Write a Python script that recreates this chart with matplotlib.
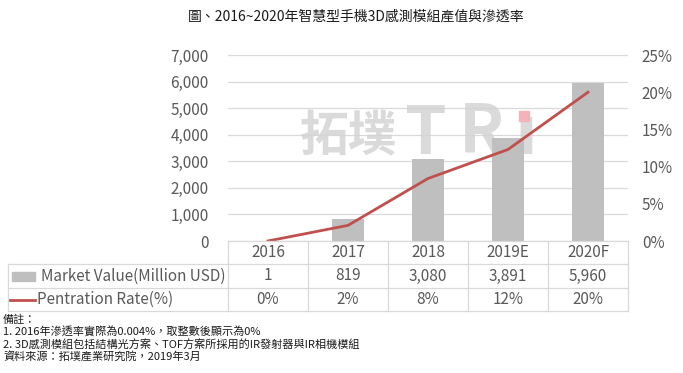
import matplotlib
matplotlib.use("Agg")
import matplotlib.pyplot as plt
from matplotlib.lines import Line2D
from matplotlib.patches import Rectangle
from matplotlib.transforms import blended_transform_factory
from matplotlib.ticker import FuncFormatter, PercentFormatter

plt.rcParams["font.family"] = ["Noto Sans CJK TC", "DejaVu Sans"]

# data
years = ["2016", "2017", "2018", "2019E", "2020F"]
market_value = [1, 819, 3080, 3891, 5960]
penetration = [0.00004, 0.021, 0.084, 0.123, 0.200]
value_labels = ["1", "819", "3,080", "3,891", "5,960"]
rate_labels = ["0%", "2%", "8%", "12%", "20%"]
row_names = ["Market Value(Million USD)", "Pentration Rate(%)"]

title = "圖、2016~2020年智慧型手機3D感測模組產值與滲透率"
notes = [
    "備註：",
    "1. 2016年滲透率實際為0.004%，取整數後顯示為0%",
    "2. 3D感測模組包括結構光方案、TOF方案所採用的IR發射器與IR相機模組",
    "資料來源：拓墣產業研究院，2019年3月",
]

W, H = 683, 373
BAR_C = "#bfbfbf"
LINE_C = "#c0504d"
TXT_C = "#595959"
GRID_C = "#d9d9d9"
WM_C = "#d4d4d4"


def fx(px):
    return px / W


def fy(py):
    return 1 - py / H


fig = plt.figure(figsize=(W / 100, H / 100), dpi=100)

# plot area: x 228..628, y 55..241 (pixels from top)
ax = fig.add_axes([fx(228), fy(241), fx(400), 186 / H])
xs = list(range(len(years)))
ax.bar(xs, market_value, width=0.4, color=BAR_C, zorder=2)
ax.set_xlim(-0.5, len(years) - 0.5)
ax.set_ylim(0, 7000)
ax.set_yticks(range(0, 7001, 1000))
ax.yaxis.set_major_formatter(FuncFormatter(lambda v, _: f"{v:,.0f}"))
ax.set_xticks([])
ax.grid(axis="y", color=GRID_C, linewidth=0.9)
ax.set_axisbelow(True)
ax.tick_params(axis="y", length=0, pad=14, labelsize=11, labelcolor=TXT_C)
for s in ax.spines.values():
    s.set_visible(False)

# faint logo watermark
wm = dict(transform=ax.transAxes, va="center", fontweight="bold", color=WM_C,
          alpha=0.85, zorder=1)
ax.text(0.30, 0.565, "拓墣", ha="center", fontsize=35, **wm)
ax.text(0.495, 0.575, "T", ha="center", fontsize=48, **wm)
ax.text(0.635, 0.575, "R", ha="center", fontsize=48, **wm)
ax.text(0.745, 0.575, "ı", ha="center", fontsize=48, **wm)
fig.add_artist(Rectangle((fx(519), fy(121)), fx(10), 10 / H, transform=fig.transFigure,
                         color="#f4b3b9", zorder=3))

ax2 = ax.twinx()
ax2.plot(xs, penetration, color=LINE_C, linewidth=2.0, zorder=3)
ax2.set_ylim(0, 0.25)
ax2.set_yticks([0, 0.05, 0.10, 0.15, 0.20, 0.25])
ax2.yaxis.set_major_formatter(PercentFormatter(1.0, decimals=0))
ax2.tick_params(axis="y", length=0, pad=10, labelsize=11, labelcolor=TXT_C)
for s in ax2.spines.values():
    s.set_visible(False)

# data table under the plot
bt = blended_transform_factory(ax.transData, fig.transFigure)
rows_y = [241, 264, 288, 311]
left_px = 8
x_lo, x_hi = -0.5, len(years) - 0.5

for i, y in enumerate(rows_y):
    if i > 0:
        fig.add_artist(Line2D([fx(left_px), fx(228)], [fy(y)] * 2, transform=fig.transFigure,
                              color=GRID_C, lw=0.9))
    fig.add_artist(Line2D([x_lo, x_hi], [fy(y)] * 2, transform=bt, color=GRID_C, lw=0.9))
for k in range(len(years) + 1):
    fig.add_artist(Line2D([k - 0.5] * 2, [fy(241), fy(311)], transform=bt, color=GRID_C, lw=0.9))
fig.add_artist(Line2D([fx(left_px)] * 2, [fy(264), fy(311)], transform=fig.transFigure,
                      color=GRID_C, lw=0.9))

row_cells = [years, value_labels, rate_labels]
for r, cells in enumerate(row_cells):
    yc = fy((rows_y[r] + rows_y[r + 1]) / 2)
    for i, txt in enumerate(cells):
        fig.text(i, yc, txt, transform=bt, ha="center", va="center", fontsize=11, color=TXT_C)

# row labels with legend keys
y_mv = fy((264 + 288) / 2)
y_pr = fy((288 + 311) / 2)
fig.add_artist(Rectangle((fx(12), y_mv - 4.5 / H), fx(23), 9 / H, transform=fig.transFigure,
                         color=BAR_C))
fig.add_artist(Line2D([fx(10), fx(35)], [y_pr] * 2, transform=fig.transFigure,
                      color=LINE_C, lw=2.0))
fig.text(fx(41), y_mv, row_names[0], ha="left", va="center", fontsize=11, color=TXT_C)
fig.text(fx(37), y_pr, row_names[1], ha="left", va="center", fontsize=11, color=TXT_C)

fig.text(fx(356), fy(17), title, ha="center", va="center", fontsize=10, color="#1a1a1a")

for j, line in enumerate(notes):
    fig.text(fx(3), fy(320 + 12 * j), line, ha="left", va="center", fontsize=8, color="#1a1a1a")

fig.savefig("out.png", dpi=100)
